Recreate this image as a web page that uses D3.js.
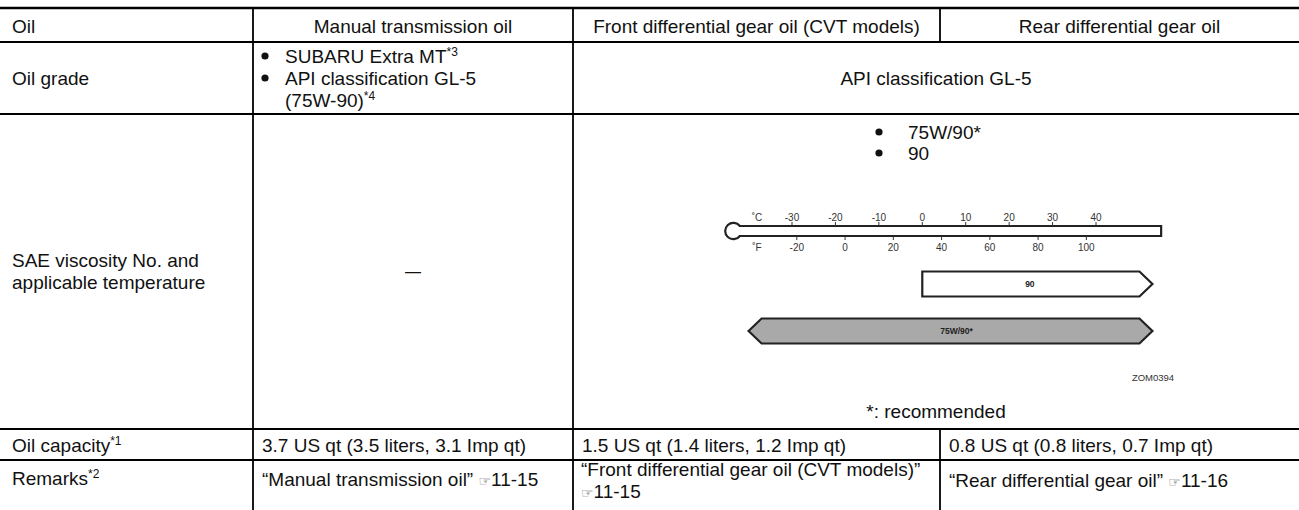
<!DOCTYPE html>
<html><head><meta charset="utf-8">
<script src="https://cdn.jsdelivr.net/npm/d3@7"></script>
<style>
html,body{margin:0;padding:0;background:#fff;}
svg{display:block;}
</style></head>
<body><svg id="c" width="1299" height="510"></svg>
<script>
// ---- data ----
const headers = ["Oil", "Manual transmission oil", "Front differential gear oil (CVT models)", "Rear differential gear oil"];
const rowLabels = ["Oil grade", "SAE viscosity No. and|applicable temperature", "Oil capacity", "Remarks"];
const rowLabelNotes = ["", "", "1", "2"];
const manualGrade = [["SUBARU Extra MT", "3"], ["API classification GL-5", ""], ["(75W-90)", "4"]];
const sharedGrade = "API classification GL-5";
const saeList = ["75W/90*", "90"];
const capacities = ["3.7 US qt (3.5 liters, 3.1 Imp qt)", "1.5 US qt (1.4 liters, 1.2 Imp qt)", "0.8 US qt (0.8 liters, 0.7 Imp qt)"];
const remarks = [["“Manual transmission oil”", "11-15"], ["“Front differential gear oil (CVT models)”", "11-15"], ["“Rear differential gear oil”", "11-16"]];
const celsiusTicks = [-30, -20, -10, 0, 10, 20, 30, 40];
const fahrenheitTicks = [-20, 0, 20, 40, 60, 80, 100];
const bandNames = ["90", "75W/90*"];
const bandLow = [0, -40];
const bandHigh = [53, 53];
const bandLeftArrow = [false, true];
const bandFill = ["#ffffff", "#a9a9a9"];
const figureCode = "ZOM0394";
const footnote = "*: recommended";

// ---- layout ----
const svg = d3.select("#c");
const FONT = "'Liberation Sans', Arial, sans-serif";
const FS = 19;
const colX = [0, 253, 573, 940, 1299];
const rowY = [8, 42, 114, 429, 460, 530];

function txt(x, y, s, opts = {}) {
  const t = svg.append("text")
    .attr("x", x).attr("y", y + (opts.fs || FS) * 0.35)
    .attr("font-family", opts.ff || FONT)
    .attr("font-size", opts.fs || FS)
    .attr("fill", opts.fill || "#111")
    .attr("text-anchor", opts.anchor || "start");
  if (opts.weight) t.attr("font-weight", opts.weight);
  if (opts.sup !== undefined) {
    t.append("tspan").text(s);
    if (opts.sup) t.append("tspan").attr("font-size", 12).attr("dy", -6.5).text("*" + opts.sup);
  } else t.text(s);
  return t;
}
function dot(x, y) {
  svg.append("circle").attr("cx", x).attr("cy", y).attr("r", 3.6).attr("fill", "#111");
}

// grid lines
const hLines = svg.append("g").attr("stroke", "#000");
rowY.slice(0, 5).forEach((y, i) => {
  hLines.append("line").attr("x1", 0).attr("x2", 1299).attr("y1", y).attr("y2", y)
    .attr("stroke-width", i === 0 ? 2.6 : 2);
});
const vLines = svg.append("g").attr("stroke", "#000").attr("stroke-width", 1.8);
vLines.append("line").attr("x1", colX[1]).attr("x2", colX[1]).attr("y1", rowY[0]).attr("y2", 510);
vLines.append("line").attr("x1", colX[2]).attr("x2", colX[2]).attr("y1", rowY[0]).attr("y2", 510);
vLines.append("line").attr("x1", colX[3]).attr("x2", colX[3]).attr("y1", rowY[0]).attr("y2", rowY[1]);
vLines.append("line").attr("x1", colX[3]).attr("x2", colX[3]).attr("y1", rowY[3]).attr("y2", 510);

// header
const hy = (rowY[0] + rowY[1]) / 2 + 1;
txt(12, hy, headers[0]);
for (let i = 1; i < 4; i++) txt((colX[i] + colX[i + 1]) / 2, hy, headers[i], { anchor: "middle" });

// row labels
const rowCenters = [78, 271, 445, 478];
rowLabels.forEach((l, i) => {
  const parts = l.split("|");
  if (parts.length === 1) txt(12, rowCenters[i], parts[0], { sup: rowLabelNotes[i] });
  else parts.forEach((p, j) => txt(12, rowCenters[i] + (j - 0.5) * 22, p));
});

// oil grade manual column
const gradeYs = [56, 78, 100];
manualGrade.forEach((g, i) => {
  if (i < 2) dot(265, gradeYs[i]);
  txt(285, gradeYs[i], g[0], { sup: g[1] });
});
txt((colX[2] + colX[4]) / 2, 78, sharedGrade, { anchor: "middle" });

// SAE row: dash in manual column
txt((colX[1] + colX[2]) / 2, 271, "—", { anchor: "middle", fs: 16 });

// bullets list
saeList.forEach((s, i) => {
  const y = 132 + i * 21;
  dot(879, y);
  txt(908, y, s);
});

// thermometer
const xC = d3.scaleLinear().domain([-30, 40]).range([792, 1096]);
const f2c = f => (f - 32) * 5 / 9;
const tubeTop = 226, tubeBot = 236;
const bulbX = xC(-43.5), bulbR = 8.2, tubeEnd = xC(55);
const dx = Math.sqrt(bulbR * bulbR - 25);
const therm = svg.append("g");
therm.append("path")
  .attr("d", `M${bulbX + dx},${tubeTop} L${tubeEnd},${tubeTop} L${tubeEnd},${tubeBot} L${bulbX + dx},${tubeBot} A${bulbR},${bulbR} 0 1,1 ${bulbX + dx},${tubeTop} Z`)
  .attr("fill", "#fff").attr("stroke", "#222").attr("stroke-width", 2.2);
const tickFont = { fs: 10, fill: "#333", anchor: "middle" };
therm.selectAll(".ct").data(celsiusTicks).join("line")
  .attr("x1", d => xC(d)).attr("x2", d => xC(d)).attr("y1", tubeTop - 4).attr("y2", tubeTop)
  .attr("stroke", "#333").attr("stroke-width", 1);
therm.selectAll(".ft").data(fahrenheitTicks).join("line")
  .attr("x1", d => xC(f2c(d))).attr("x2", d => xC(f2c(d))).attr("y1", tubeBot).attr("y2", tubeBot + 4)
  .attr("stroke", "#333").attr("stroke-width", 1);
celsiusTicks.forEach(d => txt(xC(d), 217, String(d), tickFont));
fahrenheitTicks.forEach(d => txt(xC(f2c(d)), 247, String(d), tickFont));
txt(757, 217, "˚C", tickFont);
txt(757, 247, "˚F", tickFont);

// viscosity bands
const bandY = [284, 331], bandH = 25, tip = 13;
bandNames.forEach((n, i) => {
  const x0 = xC(bandLow[i]), x1 = xC(bandHigh[i]);
  const top = bandY[i] - bandH / 2, bot = bandY[i] + bandH / 2;
  let p;
  if (bandLeftArrow[i]) {
    p = `M${x0},${bandY[i]} L${x0 + tip},${top} L${x1 - tip},${top} L${x1},${bandY[i]} L${x1 - tip},${bot} L${x0 + tip},${bot} Z`;
  } else {
    p = `M${x0},${top} L${x1 - tip},${top} L${x1},${bandY[i]} L${x1 - tip},${bot} L${x0},${bot} Z`;
  }
  svg.append("path").attr("d", p).attr("fill", bandFill[i]).attr("stroke", "#222").attr("stroke-width", 2.2);
  const cx = bandLeftArrow[i] ? (x0 + x1) / 2 + 6 : (x0 + x1 - tip) / 2 - 1;
  txt(cx, bandY[i], n, { fs: 8.5, fill: "#222", anchor: "middle", weight: "bold" });
});
txt(1153, 378, figureCode, { fs: 9.5, fill: "#333", anchor: "middle" });
txt((colX[2] + colX[4]) / 2, 411, footnote, { anchor: "middle" });

// capacity row
capacities.forEach((c, i) => txt(colX[i + 1] + 9, 445, c));

// remarks row
function remark(x, y, a, b, sameLine) {
  const t = svg.append("text").attr("x", x).attr("y", y + FS * 0.35)
    .attr("font-family", FONT).attr("font-size", FS).attr("fill", "#111");
  if (sameLine) t.append("tspan").text(a + " ");
  t.append("tspan").attr("font-family", "'DejaVu Sans', sans-serif").attr("font-size", 14).attr("fill", "#555").text("☞");
  t.append("tspan").text(b);
}
remark(colX[1] + 9, 479, remarks[0][0], remarks[0][1], true);
txt(colX[2] + 8, 469, remarks[1][0]);
remark(colX[2] + 8, 491, "", remarks[1][1], false);
remark(colX[3] + 9, 480, remarks[2][0], remarks[2][1], true);
</script></body></html>
